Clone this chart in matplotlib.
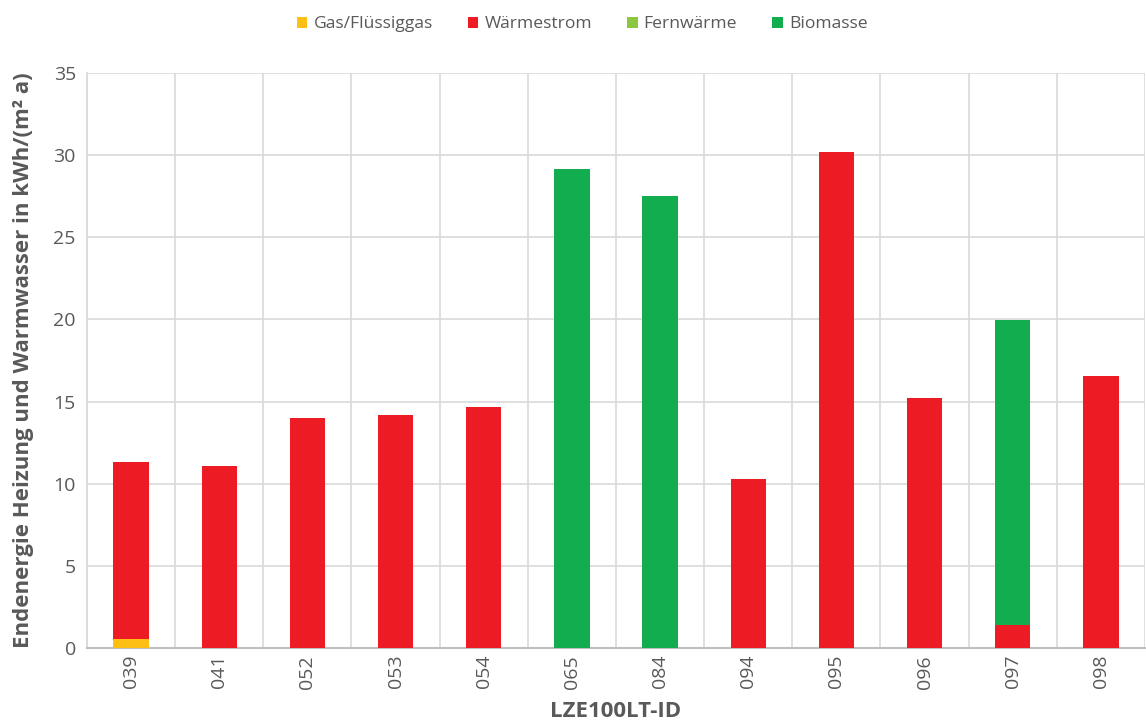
import matplotlib
matplotlib.use("Agg")
import matplotlib.pyplot as plt
import numpy as np

ids = ["039", "041", "052", "053", "054", "065", "084", "094", "095", "096", "097", "098"]
gas = [0.55, 0, 0, 0, 0, 0, 0, 0, 0, 0, 0, 0]
waermestrom = [10.77, 11.08, 14.0, 14.2, 14.67, 0, 0, 10.29, 30.19, 15.22, 1.4, 16.55]
fernwaerme = [0, 0, 0, 0, 0, 0, 0, 0, 0, 0, 0, 0]
biomasse = [0, 0, 0, 0, 0, 29.15, 27.5, 0, 0, 0, 18.56, 0]

series = [
    ("Gas/Flüssiggas", gas, "#FDBF14"),
    ("Wärmestrom", waermestrom, "#ED1C24"),
    ("Fernwärme", fernwaerme, "#8DC63F"),
    ("Biomasse", biomasse, "#12AD4E"),
]

plt.rcParams["font.family"] = ["Open Sans", "DejaVu Sans"]
text_col = "#595959"
grid_col = "#D9D9D9"

fig = plt.figure(figsize=(11.46, 7.27), dpi=100)
ax = fig.add_axes([0.0759, 0.1087, 0.9232, 0.7909])

x = np.arange(len(ids))
bottom = np.zeros(len(ids))
for name, vals, col in series:
    vals = np.array(vals, dtype=float)
    ax.bar(x, vals, width=0.4, bottom=bottom, color=col, label=name, zorder=3,
           edgecolor="none")
    bottom += vals

ax.set_xlim(-0.5, len(ids) - 0.5)
ax.set_ylim(0, 35)
ax.set_yticks(np.arange(0, 36, 5))
ax.set_xticks(x)
ax.set_xticklabels(ids, rotation=90)

for b in np.arange(-0.5, len(ids) + 0.5, 1.0):
    ax.axvline(b, color=grid_col, lw=1.2, zorder=1)
for yv in np.arange(5, 36, 5):
    ax.axhline(yv, color=grid_col, lw=1.2, zorder=1)

for s in ["top", "right"]:
    ax.spines[s].set_visible(False)
ax.spines["left"].set_color(grid_col)
ax.spines["bottom"].set_color("#BFBFBF")
ax.spines["left"].set_linewidth(1.2)
ax.spines["bottom"].set_linewidth(1.5)

ax.tick_params(axis="both", length=0, labelsize=14, colors=text_col, pad=5)
ax.tick_params(axis="y", pad=8)

ax.set_ylabel("Endenergie Heizung und Warmwasser in kWh/(m² a)", fontsize=16,
              fontweight="bold", color=text_col, labelpad=14)
ax.set_xlabel("LZE100LT-ID", fontsize=16, fontweight="bold", color=text_col,
              labelpad=9)

leg = fig.legend(loc="upper center", bbox_to_anchor=(0.508, 0.999), ncol=4,
                 frameon=False, fontsize=12.6, handlelength=0.6, handleheight=0.6,
                 handletextpad=0.35, columnspacing=2.0, labelcolor=text_col)

fig.savefig("out.png", dpi=100)
